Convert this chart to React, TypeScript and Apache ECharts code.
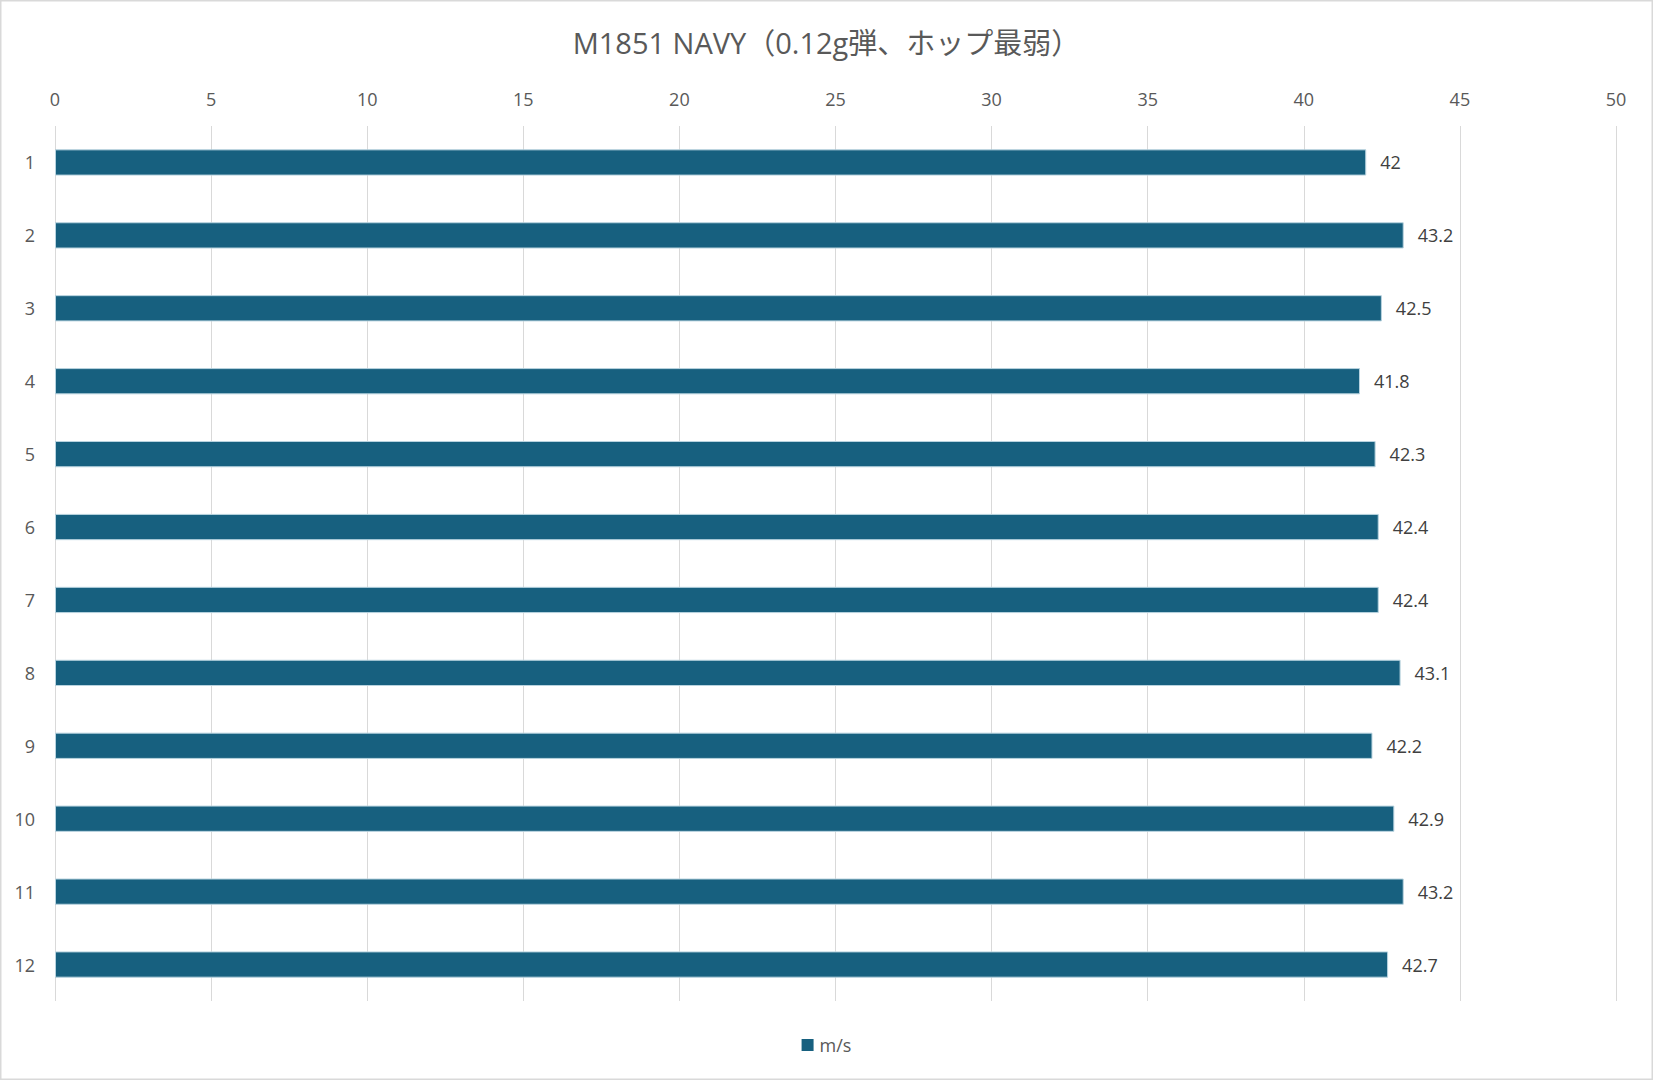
import React, { useEffect, useRef } from "react";
import * as echarts from "echarts";

const TITLE = "M1851 NAVY（0.12g弾、ホップ最弱）";
const SERIES_NAME = "m/s";
const categories = ["1", "2", "3", "4", "5", "6", "7", "8", "9", "10", "11", "12"];
const speeds = [42, 43.2, 42.5, 41.8, 42.3, 42.4, 42.4, 43.1, 42.2, 42.9, 43.2, 42.7];
const AXIS_MIN = 0;
const AXIS_MAX = 50;
const AXIS_STEP = 5;

const FONT = "'Open Sans', 'Noto Sans CJK JP', sans-serif";

export default function App() {
  const ref = useRef<HTMLDivElement>(null);
  useEffect(() => {
    document.body.style.margin = "0";
    if (!ref.current) return;
    const chart = echarts.init(ref.current, undefined, { renderer: "svg" });
    chart.setOption({
      animation: false,
      backgroundColor: "#ffffff",
      textStyle: { fontFamily: FONT },
      title: {
        text: TITLE,
        left: "center",
        top: 23,
        textStyle: { fontFamily: FONT, fontSize: 29, fontWeight: "normal", color: "#595959" },
      },
      legend: {
        bottom: 21,
        left: "center",
        itemWidth: 12,
        itemHeight: 12,
        itemGap: 4,
        icon: "rect",
        itemStyle: { borderWidth: 0 },
        textStyle: { fontFamily: FONT, fontSize: 18, color: "#595959", padding: [0, 0, 0, 1] },
        data: [SERIES_NAME],
      },
      grid: { left: 55, right: 37, top: 126, bottom: 79, containLabel: false },
      xAxis: {
        type: "value",
        position: "top",
        min: AXIS_MIN,
        max: AXIS_MAX,
        interval: AXIS_STEP,
        axisLine: { show: false },
        axisTick: { show: false },
        axisLabel: { fontFamily: FONT, fontSize: 18, color: "#595959", margin: 18 },
        splitLine: { show: true, lineStyle: { color: "#d9d9d9", width: 1 } },
      },
      yAxis: {
        type: "category",
        data: categories,
        inverse: true,
        axisLine: { show: false },
        axisTick: { show: false },
        axisLabel: { fontFamily: FONT, fontSize: 18, color: "#595959", margin: 20 },
        splitLine: { show: false },
      },
      series: [
        {
          name: SERIES_NAME,
          type: "bar",
          data: speeds,
          barWidth: "36%",
          itemStyle: { color: "#17607F", borderColor: "#b8d3df", borderWidth: 1 },
          label: {
            show: true,
            position: "right",
            distance: 14,
            fontFamily: FONT,
            fontSize: 18,
            color: "#404040",
          },
        },
      ],
      graphic: [
        {
          type: "rect",
          shape: { x: 0.5, y: 0.5, width: 1652, height: 1079 },
          style: { fill: "none", stroke: "#d9d9d9", lineWidth: 2 },
          silent: true,
        },
      ],
    });
    return () => chart.dispose();
  }, []);
  return (
    <div
      ref={ref}
      style={{ position: "absolute", left: 0, top: 0, width: 1653, height: 1080 }}
    />
  );
}
